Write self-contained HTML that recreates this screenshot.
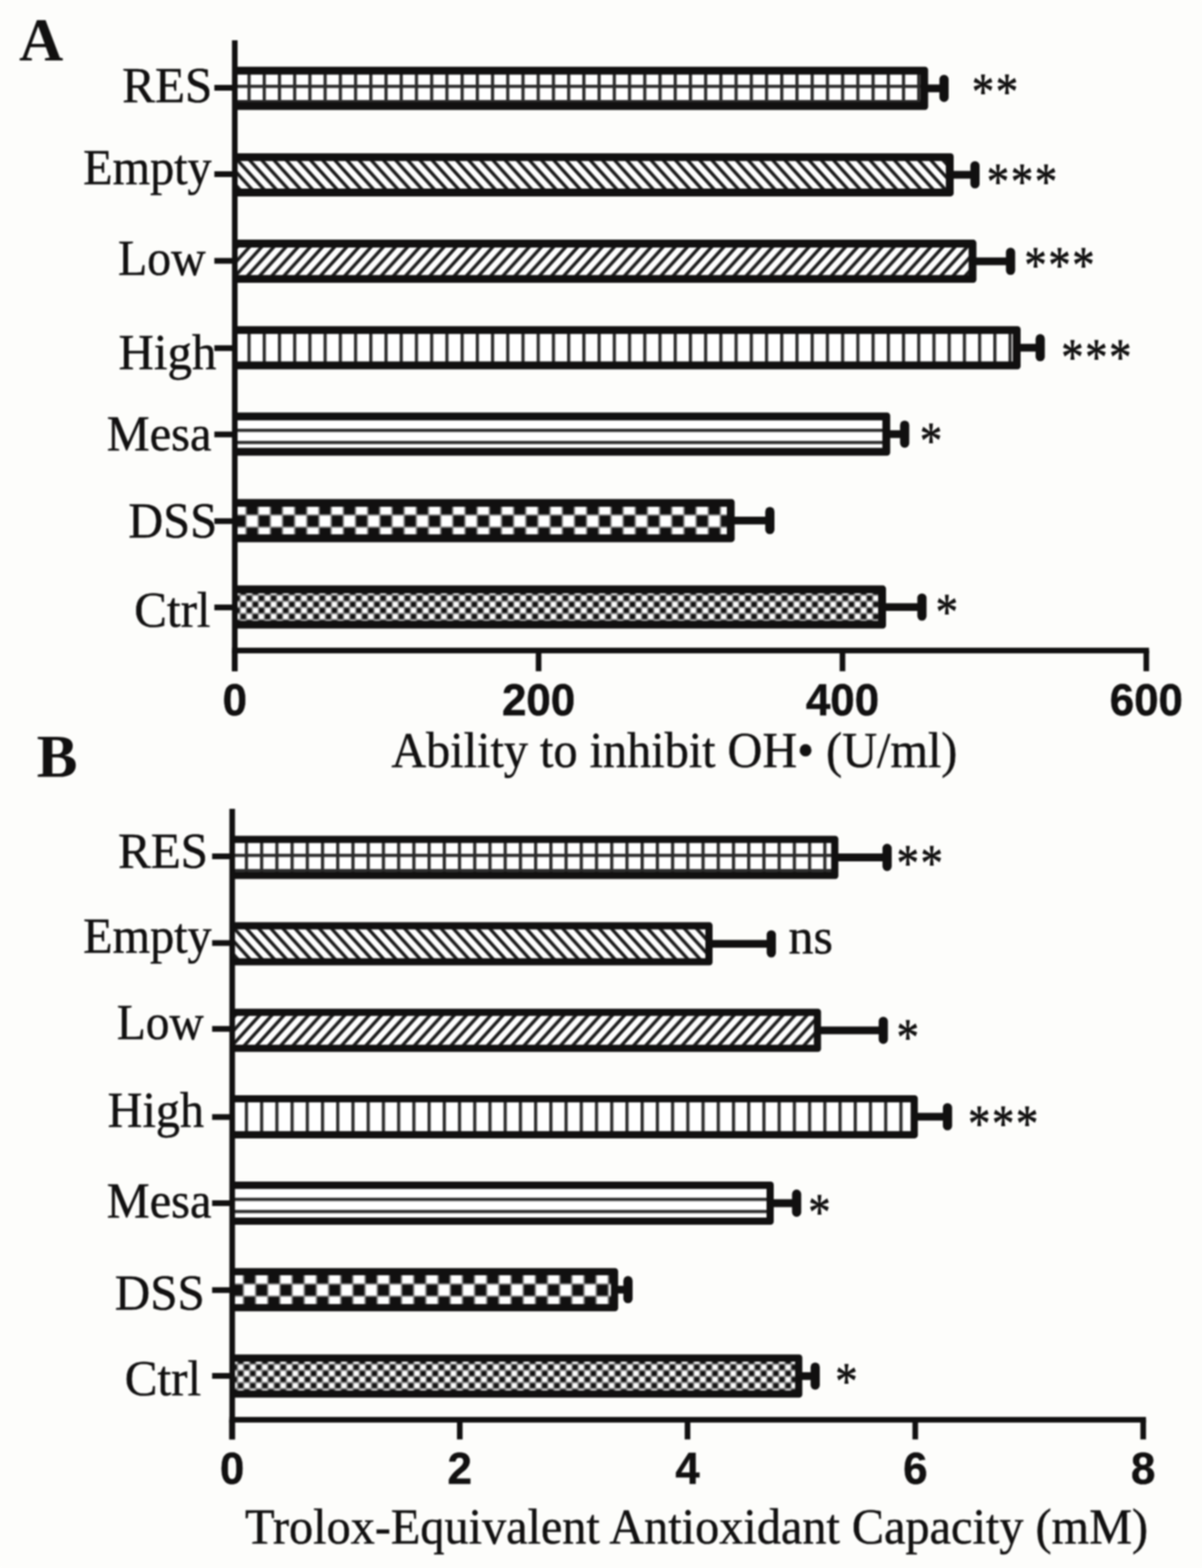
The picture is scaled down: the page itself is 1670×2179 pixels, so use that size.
<!DOCTYPE html>
<html lang="en"><head><meta charset="utf-8"><title>Figure</title>
<style>
html,body{margin:0;padding:0;background:#fdfdfb;}
body{width:1670px;height:2179px;overflow:hidden;}
svg{display:block;}
text{fill:#111010;}
.lab,.ttl,.ns{font-family:"Liberation Serif",serif;font-size:68px;stroke:#111010;stroke-width:0.6px;}
.tk{font-family:"Liberation Sans",sans-serif;font-weight:bold;font-size:61px;stroke:#111010;stroke-width:0.6px;}
.ltr{font-family:"Liberation Serif",serif;font-weight:bold;font-size:85px;}
.star{font-family:"Liberation Serif",serif;font-size:62px;letter-spacing:2.3px;stroke:#111010;stroke-width:0.8px;}
</style></head>
<body>
<svg width="1670" height="2179" viewBox="0 0 1670 2179">
<rect width="1670" height="2179" fill="#fdfdfb"/>
<defs><filter id="soft" color-interpolation-filters="sRGB" x="0" y="0" width="1670" height="2179" filterUnits="userSpaceOnUse"><feGaussianBlur stdDeviation="1.1"/></filter></defs>
<g filter="url(#soft)">
<rect width="1670" height="2179" fill="#fdfdfb"/>
<g id="panelA">
<defs><pattern id="pARES" patternUnits="userSpaceOnUse" x="343.80" y="117.80" width="21.147" height="21.147"><rect width="21.147" height="21.147" fill="#fff"/><rect width="4.4" height="21.147" fill="#2a2a2a"/><rect width="21.147" height="4.4" fill="#2a2a2a"/></pattern></defs>
<path d="M326.2,92.8 H1285.0 A4.5,4.5 0 0 1 1289.5,97.3 V148.3 A4.5,4.5 0 0 1 1285.0,152.8 H326.2 Z" fill="#111010"/>
<rect x="326.2" y="103.7" width="952.4" height="38.2" fill="url(#pARES)"/>
<line x1="1287.5" y1="122.8" x2="1311.6" y2="122.8" stroke="#111010" stroke-width="10.8"/>
<line x1="1311.6" y1="110.3" x2="1311.6" y2="135.3" stroke="#111010" stroke-width="12.8" stroke-linecap="round"/>
<rect x="297.8" y="118.0" width="28.4" height="8.0" fill="#111010"/>
<text class="lab" transform="translate(169.75,141.8) scale(1,1.025)" textLength="125.22" lengthAdjust="spacingAndGlyphs">RES</text>
<text class="star" transform="translate(1350.2,117.5) scale(1,1.15)" x="0" y="29.1">**</text>
<defs><pattern id="pAEmpty" patternUnits="userSpaceOnUse" x="329.80" y="222.43" width="16.9" height="18.590"><rect width="16.9" height="18.590" fill="#fff"/><path d="M-8.450,-9.295 L25.350,27.885 M-8.450,9.295 L8.450,27.885 M8.450,-9.295 L25.350,9.295" stroke="#1a1a1a" stroke-width="4.6" fill="none"/></pattern></defs>
<path d="M326.2,212.9 H1320.5 A4.5,4.5 0 0 1 1325.0,217.4 V268.4 A4.5,4.5 0 0 1 1320.5,272.9 H326.2 Z" fill="#111010"/>
<rect x="326.2" y="223.8" width="987.9" height="38.2" fill="url(#pAEmpty)"/>
<line x1="1323.0" y1="242.9" x2="1354.6" y2="242.9" stroke="#111010" stroke-width="10.8"/>
<line x1="1354.6" y1="230.4" x2="1354.6" y2="255.4" stroke="#111010" stroke-width="12.8" stroke-linecap="round"/>
<rect x="297.8" y="238.0" width="28.4" height="8.0" fill="#111010"/>
<text class="lab" transform="translate(115.49,255.8) scale(1,1.025)" textLength="178.55" lengthAdjust="spacingAndGlyphs">Empty</text>
<text class="star" transform="translate(1371.1,242.4) scale(1,1.15)" x="0" y="29.1">***</text>
<defs><pattern id="pALow" patternUnits="userSpaceOnUse" x="329.80" y="343.06" width="16.9" height="18.590"><rect width="16.9" height="18.590" fill="#fff"/><path d="M-8.450,27.885 L25.350,-9.295 M-8.450,9.295 L8.450,-9.295 M8.450,27.885 L25.350,9.295" stroke="#1a1a1a" stroke-width="4.6" fill="none"/></pattern></defs>
<path d="M326.2,333.1 H1352.1 A4.5,4.5 0 0 1 1356.6,337.6 V388.6 A4.5,4.5 0 0 1 1352.1,393.1 H326.2 Z" fill="#111010"/>
<rect x="326.2" y="344.0" width="1019.5" height="38.2" fill="url(#pALow)"/>
<line x1="1354.6" y1="363.1" x2="1404.0" y2="363.1" stroke="#111010" stroke-width="10.8"/>
<line x1="1404.0" y1="350.6" x2="1404.0" y2="375.6" stroke="#111010" stroke-width="12.8" stroke-linecap="round"/>
<rect x="297.8" y="358.5" width="28.4" height="8.0" fill="#111010"/>
<text class="lab" transform="translate(164.01,381.6) scale(1,1.025)" textLength="121.70" lengthAdjust="spacingAndGlyphs">Low</text>
<text class="star" transform="translate(1423.2,358.8) scale(1,1.15)" x="0" y="29.1">***</text>
<defs><pattern id="pAHigh" patternUnits="userSpaceOnUse" x="343.80" y="453.19" width="21.147" height="21.147"><rect width="21.147" height="21.147" fill="#fff"/><rect width="4.4" height="21.147" fill="#2a2a2a"/></pattern></defs>
<path d="M326.2,453.2 H1413.5 A4.5,4.5 0 0 1 1418.0,457.7 V508.7 A4.5,4.5 0 0 1 1413.5,513.2 H326.2 Z" fill="#111010"/>
<rect x="326.2" y="464.1" width="1080.9" height="38.2" fill="url(#pAHigh)"/>
<line x1="1416.0" y1="483.2" x2="1445.2" y2="483.2" stroke="#111010" stroke-width="10.8"/>
<line x1="1445.2" y1="470.7" x2="1445.2" y2="495.7" stroke="#111010" stroke-width="12.8" stroke-linecap="round"/>
<rect x="297.8" y="479.8" width="28.4" height="8.0" fill="#111010"/>
<text class="lab" transform="translate(164.86,512.9) scale(1,1.025)" textLength="135.71" lengthAdjust="spacingAndGlyphs">High</text>
<text class="star" transform="translate(1474.4,486.8) scale(1,1.15)" x="0" y="29.1">***</text>
<defs><pattern id="pAMesa" patternUnits="userSpaceOnUse" x="326.20" y="595.82" width="16.9" height="16.9"><rect width="16.9" height="16.9" fill="#fff"/><rect width="16.9" height="4.4" fill="#2a2a2a"/></pattern></defs>
<path d="M326.2,573.3 H1232.3 A4.5,4.5 0 0 1 1236.8,577.8 V628.8 A4.5,4.5 0 0 1 1232.3,633.3 H326.2 Z" fill="#111010"/>
<rect x="326.2" y="584.2" width="899.7" height="38.2" fill="url(#pAMesa)"/>
<line x1="1234.8" y1="603.3" x2="1256.9" y2="603.3" stroke="#111010" stroke-width="10.8"/>
<line x1="1256.9" y1="590.8" x2="1256.9" y2="615.8" stroke="#111010" stroke-width="12.8" stroke-linecap="round"/>
<rect x="297.8" y="599.7" width="28.4" height="8.0" fill="#111010"/>
<text class="lab" transform="translate(148.28,626.1) scale(1,1.025)" textLength="145.50" lengthAdjust="spacingAndGlyphs">Mesa</text>
<text class="star" transform="translate(1278.0,602.9) scale(1,1.15)" x="0" y="29.1">*</text>
<defs><pattern id="pADSS" patternUnits="userSpaceOnUse" x="341.80" y="698.75" width="33.8" height="33.8"><rect width="33.8" height="33.8" fill="#fff"/><rect width="16.9" height="16.9" fill="#111010"/><rect x="16.9" y="16.9" width="16.9" height="16.9" fill="#111010"/><path d="M0,0 H33.8 M0,16.9 H33.8 M0,33.8 H33.8 M0,0 V33.8 M16.9,0 V33.8 M33.8,0 V33.8" stroke="#8a8a8a" stroke-width="2.2" fill="none"/></pattern></defs>
<path d="M326.2,693.4 H1016.2 A4.5,4.5 0 0 1 1020.7,697.9 V748.9 A4.5,4.5 0 0 1 1016.2,753.4 H326.2 Z" fill="#111010"/>
<rect x="326.2" y="704.3" width="683.6" height="38.2" fill="url(#pADSS)"/>
<line x1="1018.7" y1="723.4" x2="1069.6" y2="723.4" stroke="#111010" stroke-width="10.8"/>
<line x1="1069.6" y1="710.9" x2="1069.6" y2="735.9" stroke="#111010" stroke-width="12.8" stroke-linecap="round"/>
<rect x="297.8" y="720.2" width="28.4" height="8.0" fill="#111010"/>
<text class="lab" transform="translate(178.28,746.6) scale(1,1.025)" textLength="123.25" lengthAdjust="spacingAndGlyphs">DSS</text>
<defs><pattern id="pACtrl" patternUnits="userSpaceOnUse" x="342.13" y="827.18" width="16.9" height="16.9"><rect width="16.9" height="16.9" fill="#fff"/><rect width="8.45" height="8.45" fill="#111010"/><rect x="8.45" y="8.45" width="8.45" height="8.45" fill="#111010"/><path d="M0,0 H16.9 M0,8.45 H16.9 M0,16.9 H16.9 M0,0 V16.9 M8.45,0 V16.9 M16.9,0 V16.9" stroke="#8c8c8c" stroke-width="2.0" fill="none"/></pattern></defs>
<path d="M326.2,813.6 H1226.5 A4.5,4.5 0 0 1 1231.0,818.1 V869.1 A4.5,4.5 0 0 1 1226.5,873.6 H326.2 Z" fill="#111010"/>
<rect x="326.2" y="824.5" width="893.9" height="38.2" fill="url(#pACtrl)"/>
<line x1="1229.0" y1="843.6" x2="1280.9" y2="843.6" stroke="#111010" stroke-width="10.8"/>
<line x1="1280.9" y1="831.1" x2="1280.9" y2="856.1" stroke="#111010" stroke-width="12.8" stroke-linecap="round"/>
<rect x="297.8" y="840.1" width="28.4" height="8.0" fill="#111010"/>
<text class="lab" transform="translate(186.58,870.6) scale(1,1.025)" textLength="105.90" lengthAdjust="spacingAndGlyphs">Ctrl</text>
<text class="star" transform="translate(1300.0,840.8) scale(1,1.15)" x="0" y="29.1">*</text>
<rect x="322.3" y="56" width="7.8" height="876.8" fill="#111010"/>
<rect x="322.3" y="900.1" width="1274.1" height="7.8" fill="#111010"/>
<rect x="322.3" y="904.0" width="7.8" height="28.8" fill="#111010"/>
<text class="tk" transform="translate(326.2,994.0) scale(1,1.03)" text-anchor="middle">0</text>
<rect x="744.4" y="904.0" width="7.8" height="28.8" fill="#111010"/>
<text class="tk" transform="translate(748.3,994.0) scale(1,1.03)" text-anchor="middle">200</text>
<rect x="1166.6" y="904.0" width="7.8" height="28.8" fill="#111010"/>
<text class="tk" transform="translate(1170.5,994.0) scale(1,1.03)" text-anchor="middle">400</text>
<rect x="1588.7" y="904.0" width="7.8" height="28.8" fill="#111010"/>
<text class="tk" transform="translate(1592.6,994.0) scale(1,1.03)" text-anchor="middle">600</text>
<text class="ttl" transform="translate(543.73,1066.0) scale(1,1.025)" textLength="786.45" lengthAdjust="spacingAndGlyphs">Ability to inhibit OH• (U/ml)</text>
<text class="ltr" x="26.6" y="84.3">A</text>
</g>
<g id="panelB">
<defs><pattern id="pBRES" patternUnits="userSpaceOnUse" x="340.20" y="1186.50" width="21.147" height="21.147"><rect width="21.147" height="21.147" fill="#fff"/><rect width="4.4" height="21.147" fill="#2a2a2a"/><rect width="21.147" height="4.4" fill="#2a2a2a"/></pattern></defs>
<path d="M322.6,1161.5 H1160.3 A4.5,4.5 0 0 1 1164.8,1166.0 V1217.0 A4.5,4.5 0 0 1 1160.3,1221.5 H322.6 Z" fill="#111010"/>
<rect x="322.6" y="1171.5" width="832.2" height="40.0" fill="url(#pBRES)"/>
<line x1="1162.8" y1="1191.5" x2="1232.5" y2="1191.5" stroke="#111010" stroke-width="10.8"/>
<line x1="1232.5" y1="1179.0" x2="1232.5" y2="1204.0" stroke="#111010" stroke-width="12.8" stroke-linecap="round"/>
<rect x="294.7" y="1186.0" width="27.9" height="8.0" fill="#111010"/>
<text class="lab" transform="translate(163.96,1206.0) scale(1,1.025)" textLength="125.01" lengthAdjust="spacingAndGlyphs">RES</text>
<text class="star" transform="translate(1245.8,1189.3) scale(1,1.15)" x="0" y="29.1">**</text>
<defs><pattern id="pBEmpty" patternUnits="userSpaceOnUse" x="326.20" y="1291.13" width="16.9" height="18.590"><rect width="16.9" height="18.590" fill="#fff"/><path d="M-8.450,-9.295 L25.350,27.885 M-8.450,9.295 L8.450,27.885 M8.450,-9.295 L25.350,9.295" stroke="#1a1a1a" stroke-width="4.6" fill="none"/></pattern></defs>
<path d="M322.6,1281.6 H985.5 A4.5,4.5 0 0 1 990.0,1286.1 V1337.1 A4.5,4.5 0 0 1 985.5,1341.6 H322.6 Z" fill="#111010"/>
<rect x="322.6" y="1291.6" width="657.4" height="40.0" fill="url(#pBEmpty)"/>
<line x1="988.0" y1="1311.6" x2="1071.6" y2="1311.6" stroke="#111010" stroke-width="10.8"/>
<line x1="1071.6" y1="1299.1" x2="1071.6" y2="1324.1" stroke="#111010" stroke-width="12.8" stroke-linecap="round"/>
<rect x="294.7" y="1306.5" width="27.9" height="8.0" fill="#111010"/>
<text class="lab" transform="translate(115.49,1324.3) scale(1,1.025)" textLength="178.55" lengthAdjust="spacingAndGlyphs">Empty</text>
<text class="ns" transform="translate(1095.61,1325.0) scale(1,1.025)" textLength="61.71" lengthAdjust="spacingAndGlyphs">ns</text>
<defs><pattern id="pBLow" patternUnits="userSpaceOnUse" x="326.20" y="1411.76" width="16.9" height="18.590"><rect width="16.9" height="18.590" fill="#fff"/><path d="M-8.450,27.885 L25.350,-9.295 M-8.450,9.295 L8.450,-9.295 M8.450,27.885 L25.350,9.295" stroke="#1a1a1a" stroke-width="4.6" fill="none"/></pattern></defs>
<path d="M322.6,1401.8 H1136.2 A4.5,4.5 0 0 1 1140.7,1406.3 V1457.3 A4.5,4.5 0 0 1 1136.2,1461.8 H322.6 Z" fill="#111010"/>
<rect x="322.6" y="1411.8" width="808.1" height="40.0" fill="url(#pBLow)"/>
<line x1="1138.7" y1="1431.8" x2="1227.2" y2="1431.8" stroke="#111010" stroke-width="10.8"/>
<line x1="1227.2" y1="1419.3" x2="1227.2" y2="1444.3" stroke="#111010" stroke-width="12.8" stroke-linecap="round"/>
<rect x="294.7" y="1425.8" width="27.9" height="8.0" fill="#111010"/>
<text class="lab" transform="translate(162.22,1444.0) scale(1,1.025)" textLength="120.78" lengthAdjust="spacingAndGlyphs">Low</text>
<text class="star" transform="translate(1245.8,1431.4) scale(1,1.15)" x="0" y="29.1">*</text>
<defs><pattern id="pBHigh" patternUnits="userSpaceOnUse" x="340.20" y="1521.89" width="21.147" height="21.147"><rect width="21.147" height="21.147" fill="#fff"/><rect width="4.4" height="21.147" fill="#2a2a2a"/></pattern></defs>
<path d="M322.6,1521.9 H1270.7 A4.5,4.5 0 0 1 1275.2,1526.4 V1577.4 A4.5,4.5 0 0 1 1270.7,1581.9 H322.6 Z" fill="#111010"/>
<rect x="322.6" y="1531.9" width="942.6" height="40.0" fill="url(#pBHigh)"/>
<line x1="1273.2" y1="1551.9" x2="1316.4" y2="1551.9" stroke="#111010" stroke-width="10.8"/>
<line x1="1316.4" y1="1539.4" x2="1316.4" y2="1564.4" stroke="#111010" stroke-width="12.8" stroke-linecap="round"/>
<rect x="294.7" y="1548.3" width="27.9" height="8.0" fill="#111010"/>
<text class="lab" transform="translate(149.59,1566.2) scale(1,1.025)" textLength="133.88" lengthAdjust="spacingAndGlyphs">High</text>
<text class="star" transform="translate(1345.0,1552.0) scale(1,1.15)" x="0" y="29.1">***</text>
<defs><pattern id="pBMesa" patternUnits="userSpaceOnUse" x="322.60" y="1664.52" width="16.9" height="16.9"><rect width="16.9" height="16.9" fill="#fff"/><rect width="16.9" height="4.4" fill="#2a2a2a"/></pattern></defs>
<path d="M322.6,1642.0 H1070.5 A4.5,4.5 0 0 1 1075.0,1646.5 V1697.5 A4.5,4.5 0 0 1 1070.5,1702.0 H322.6 Z" fill="#111010"/>
<rect x="322.6" y="1652.0" width="742.4" height="40.0" fill="url(#pBMesa)"/>
<line x1="1073.0" y1="1672.0" x2="1106.8" y2="1672.0" stroke="#111010" stroke-width="10.8"/>
<line x1="1106.8" y1="1659.5" x2="1106.8" y2="1684.5" stroke="#111010" stroke-width="12.8" stroke-linecap="round"/>
<rect x="294.7" y="1668.0" width="27.9" height="8.0" fill="#111010"/>
<text class="lab" transform="translate(148.28,1692.0) scale(1,1.025)" textLength="145.50" lengthAdjust="spacingAndGlyphs">Mesa</text>
<text class="star" transform="translate(1123.0,1674.8) scale(1,1.15)" x="0" y="29.1">*</text>
<defs><pattern id="pBDSS" patternUnits="userSpaceOnUse" x="338.20" y="1767.45" width="33.8" height="33.8"><rect width="33.8" height="33.8" fill="#fff"/><rect width="16.9" height="16.9" fill="#111010"/><rect x="16.9" y="16.9" width="16.9" height="16.9" fill="#111010"/><path d="M0,0 H33.8 M0,16.9 H33.8 M0,33.8 H33.8 M0,0 V33.8 M16.9,0 V33.8 M33.8,0 V33.8" stroke="#8a8a8a" stroke-width="2.2" fill="none"/></pattern></defs>
<path d="M322.6,1762.2 H854.3 A4.5,4.5 0 0 1 858.8,1766.7 V1817.7 A4.5,4.5 0 0 1 854.3,1822.2 H322.6 Z" fill="#111010"/>
<rect x="322.6" y="1772.2" width="526.2" height="40.0" fill="url(#pBDSS)"/>
<line x1="856.8" y1="1792.2" x2="872.5" y2="1792.2" stroke="#111010" stroke-width="10.8"/>
<line x1="872.5" y1="1779.7" x2="872.5" y2="1804.7" stroke="#111010" stroke-width="12.8" stroke-linecap="round"/>
<rect x="294.7" y="1788.8" width="27.9" height="8.0" fill="#111010"/>
<text class="lab" transform="translate(159.46,1819.8) scale(1,1.025)" textLength="125.04" lengthAdjust="spacingAndGlyphs">DSS</text>
<defs><pattern id="pBCtrl" patternUnits="userSpaceOnUse" x="338.53" y="1895.88" width="16.9" height="16.9"><rect width="16.9" height="16.9" fill="#fff"/><rect width="8.45" height="8.45" fill="#111010"/><rect x="8.45" y="8.45" width="8.45" height="8.45" fill="#111010"/><path d="M0,0 H16.9 M0,8.45 H16.9 M0,16.9 H16.9 M0,0 V16.9 M8.45,0 V16.9 M16.9,0 V16.9" stroke="#8c8c8c" stroke-width="2.0" fill="none"/></pattern></defs>
<path d="M322.6,1882.3 H1110.2 A4.5,4.5 0 0 1 1114.7,1886.8 V1937.8 A4.5,4.5 0 0 1 1110.2,1942.3 H322.6 Z" fill="#111010"/>
<rect x="322.6" y="1892.3" width="782.1" height="40.0" fill="url(#pBCtrl)"/>
<line x1="1112.7" y1="1912.3" x2="1132.6" y2="1912.3" stroke="#111010" stroke-width="10.8"/>
<line x1="1132.6" y1="1899.8" x2="1132.6" y2="1924.8" stroke="#111010" stroke-width="12.8" stroke-linecap="round"/>
<rect x="294.7" y="1908.0" width="27.9" height="8.0" fill="#111010"/>
<text class="lab" transform="translate(173.27,1938.5) scale(1,1.025)" textLength="106.31" lengthAdjust="spacingAndGlyphs">Ctrl</text>
<text class="star" transform="translate(1160.5,1909.4) scale(1,1.15)" x="0" y="29.1">*</text>
<rect x="318.7" y="1124" width="7.8" height="876.3" fill="#111010"/>
<rect x="318.7" y="1969.1" width="1273.5" height="7.8" fill="#111010"/>
<rect x="318.5" y="1973.0" width="7.8" height="27.3" fill="#111010"/>
<text class="tk" transform="translate(322.4,2062.0) scale(1,1.03)" text-anchor="middle">0</text>
<rect x="634.9" y="1973.0" width="7.8" height="27.3" fill="#111010"/>
<text class="tk" transform="translate(638.8,2062.0) scale(1,1.03)" text-anchor="middle">2</text>
<rect x="951.3" y="1973.0" width="7.8" height="27.3" fill="#111010"/>
<text class="tk" transform="translate(955.2,2062.0) scale(1,1.03)" text-anchor="middle">4</text>
<rect x="1267.7" y="1973.0" width="7.8" height="27.3" fill="#111010"/>
<text class="tk" transform="translate(1271.6,2062.0) scale(1,1.03)" text-anchor="middle">6</text>
<rect x="1584.4" y="1973.0" width="7.8" height="27.3" fill="#111010"/>
<text class="tk" transform="translate(1588.3,2062.0) scale(1,1.03)" text-anchor="middle">8</text>
<text class="ttl" transform="translate(340.56,2144.8) scale(1,1.025)" textLength="1254.55" lengthAdjust="spacingAndGlyphs">Trolox-Equivalent Antioxidant Capacity (mM)</text>
<text class="ltr" x="50.9" y="1080.0">B</text>
</g>
</g>
</svg>
</body></html>
